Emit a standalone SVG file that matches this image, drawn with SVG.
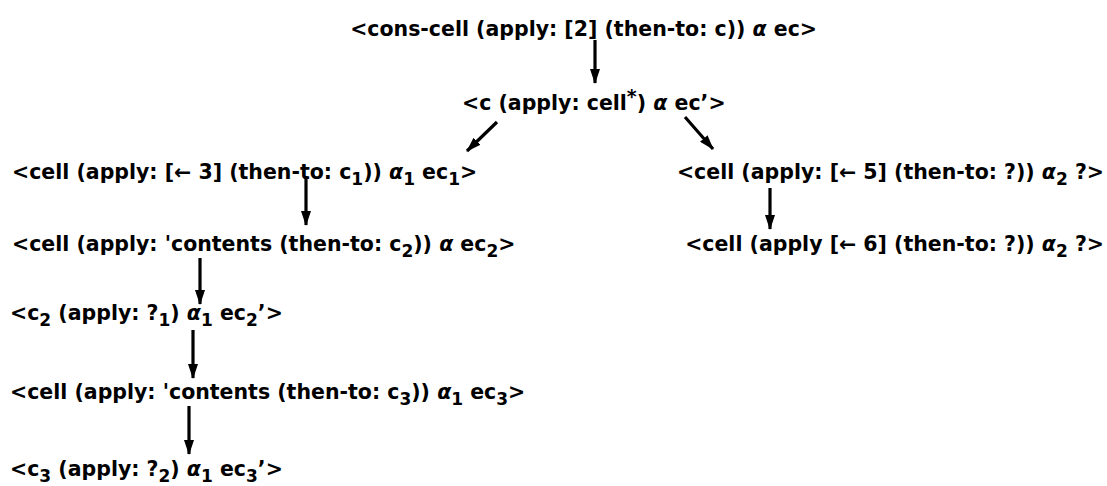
<svg xmlns="http://www.w3.org/2000/svg" width="1107" height="486" viewBox="0 0 1107 486">
<style>
text { font-family: "DejaVu Sans", "Liberation Sans", sans-serif; font-weight: bold; font-size: 20.5px; fill: #000; }
.sub { font-size: 17px; }
.sup { font-size: 19px; }
.al { font-style: italic; }
.conn line { stroke: #000; stroke-width: 3.2; marker-end: url(#ah); }
</style>
<defs>
<marker id="ah" markerUnits="userSpaceOnUse" markerWidth="15" markerHeight="10" refX="14" refY="5" orient="auto">
<path d="M0,0 L15,5 L0,10 z" fill="#000"/>
</marker>
</defs>
<rect width="1107" height="486" fill="#fff"/>
<g id="n1"><text x="817" y="36" text-anchor="end">&lt;cons-cell (apply: [2] (then-to: c)) <tspan class="al">α</tspan> ec&gt;</text></g>
<g id="n2"><text x="462" y="110">&lt;c (apply: cell<tspan class="sup" dy="-7">*</tspan><tspan dy="7">) </tspan><tspan class="al">α</tspan> ec’&gt;</text></g>
<g id="n3"><text x="12" y="179">&lt;cell (apply: [← 3] (then-to: c<tspan class="sub" dy="6">1</tspan><tspan dy="-6">)) </tspan><tspan class="al">α</tspan><tspan class="sub" dy="6">1</tspan><tspan dy="-6"> ec</tspan><tspan class="sub" dy="6">1</tspan><tspan dy="-6">&gt;</tspan></text></g>
<g id="n4"><text x="1104" y="179" text-anchor="end">&lt;cell (apply: [← 5] (then-to: ?)) <tspan class="al">α</tspan><tspan class="sub" dy="6">2</tspan><tspan dy="-6"> ?&gt;</tspan></text></g>
<g id="n5"><text x="12" y="251">&lt;cell (apply: 'contents (then-to: c<tspan class="sub" dy="6">2</tspan><tspan dy="-6">)) </tspan><tspan class="al">α</tspan> ec<tspan class="sub" dy="6">2</tspan><tspan dy="-6">&gt;</tspan></text></g>
<g id="n6"><text x="1104" y="251" text-anchor="end">&lt;cell (apply [← 6] (then-to: ?)) <tspan class="al">α</tspan><tspan class="sub" dy="6">2</tspan><tspan dy="-6"> ?&gt;</tspan></text></g>
<g id="n7"><text x="10" y="320">&lt;c<tspan class="sub" dy="6">2</tspan><tspan dy="-6"> (apply: ?</tspan><tspan class="sub" dy="6">1</tspan><tspan dy="-6">) </tspan><tspan class="al">α</tspan><tspan class="sub" dy="6">1</tspan><tspan dy="-6"> ec</tspan><tspan class="sub" dy="6">2</tspan><tspan dy="-6">’&gt;</tspan></text></g>
<g id="n8"><text x="10" y="399">&lt;cell (apply: 'contents (then-to: c<tspan class="sub" dy="6">3</tspan><tspan dy="-6">)) </tspan><tspan class="al">α</tspan><tspan class="sub" dy="6">1</tspan><tspan dy="-6"> ec</tspan><tspan class="sub" dy="6">3</tspan><tspan dy="-6">&gt;</tspan></text></g>
<g id="n9"><text x="10" y="476">&lt;c<tspan class="sub" dy="6">3</tspan><tspan dy="-6"> (apply: ?</tspan><tspan class="sub" dy="6">2</tspan><tspan dy="-6">) </tspan><tspan class="al">α</tspan><tspan class="sub" dy="6">1</tspan><tspan dy="-6"> ec</tspan><tspan class="sub" dy="6">3</tspan><tspan dy="-6">’&gt;</tspan></text></g>
<g class="conn" id="connectors">
<line x1="595" y1="40" x2="595" y2="83"/>
<line x1="497" y1="122" x2="467" y2="151"/>
<line x1="685" y1="117" x2="713" y2="149"/>
<line x1="306" y1="176" x2="306" y2="225"/>
<line x1="770" y1="188" x2="770" y2="229"/>
<line x1="200" y1="258" x2="200" y2="304"/>
<line x1="193" y1="330" x2="193" y2="378"/>
<line x1="189" y1="406" x2="189" y2="454"/>
</g>
</svg>
